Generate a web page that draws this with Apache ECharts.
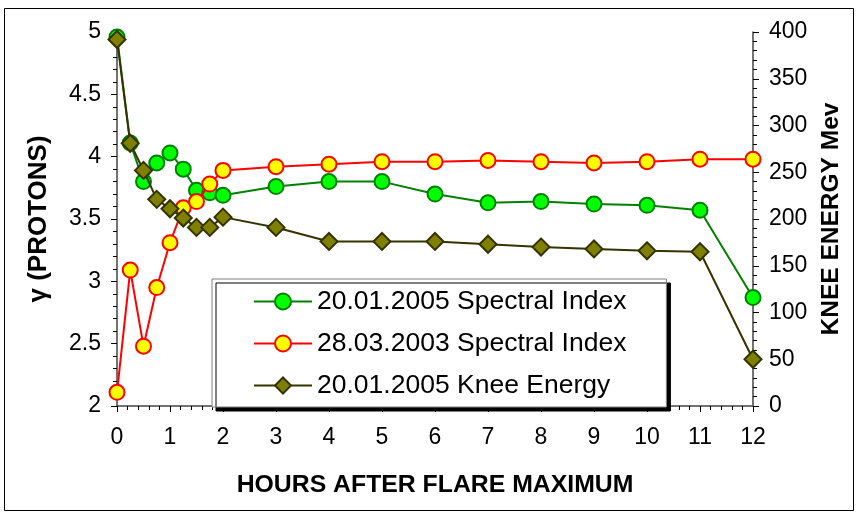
<!DOCTYPE html>
<html>
<head>
<meta charset="utf-8">
<script src="https://cdn.jsdelivr.net/npm/echarts@6/dist/echarts.min.js"></script>
<style>
html,body{margin:0;padding:0;background:#fff;}
#chart{width:861px;height:519px;}
</style>
</head>
<body>
<div id="chart"></div>
<script>
var hours = [0, 0.25, 0.5, 0.75, 1, 1.25, 1.5, 1.75, 2, 3, 4, 5, 6, 7, 8, 9, 10, 11, 12];
var spectral2005 = [4.96, 4.11, 3.80, 3.95, 4.03, 3.90, 3.73, 3.71, 3.69, 3.76, 3.80, 3.80, 3.70, 3.63, 3.64, 3.62, 3.61, 3.57, 2.87];
var spectral2003 = [2.11, 3.09, 2.48, 2.95, 3.31, 3.59, 3.64, 3.78, 3.89, 3.92, 3.94, 3.96, 3.96, 3.97, 3.96, 3.95, 3.96, 3.98, 3.98];
var knee2005 = [392, 281, 252, 221, 211, 201, 191, 191, 202, 191, 176, 176, 176, 173, 170, 168, 166, 165, 50];
var seriesNames = ['20.01.2005 Spectral Index', '28.03.2003 Spectral Index', '20.01.2005 Knee Energy'];
var xTitle = 'HOURS AFTER FLARE MAXIMUM';
var yLeftTitle = 'γ (PROTONS)';
var yRightTitle = 'KNEE ENERGY Mev';

function pairs(xs, ys) {
  return xs.map(function (x, i) { return [x, ys[i]]; });
}

var FONT = "'Liberation Sans', Arial, sans-serif";
var chart = echarts.init(document.getElementById('chart'), null, {renderer: 'canvas'});
var axisLineStyle = {color: '#444', width: 1.5};
var option = {
  animation: false,
  backgroundColor: '#fff',
  textStyle: {fontFamily: FONT},
  graphic: [{
    type: 'rect',
    shape: {x: 4.5, y: 8.5, width: 849, height: 502},
    style: {fill: 'none', stroke: '#000', lineWidth: 1},
    silent: true,
    z: -1
  }],
  grid: {left: 117, right: 108, top: 32, bottom: 113, containLabel: false},
  legend: {
    orient: 'vertical',
    left: 212,
    top: 279,
    padding: [9, 40, 8, 41],
    itemWidth: 58,
    itemHeight: 20,
    itemGap: 15,
    backgroundColor: '#fff',
    borderColor: '#808080',
    borderWidth: 1,
    shadowColor: '#000',
    shadowBlur: 0,
    shadowOffsetX: 4,
    shadowOffsetY: 4,
    textStyle: {fontFamily: FONT, fontSize: 26.5, color: '#000'},
    data: seriesNames
  },
  xAxis: {
    type: 'value',
    min: 0,
    max: 12,
    interval: 1,
    name: xTitle,
    nameLocation: 'middle',
    nameGap: 67,
    nameTextStyle: {fontFamily: FONT, fontSize: 24.8, fontWeight: 'bold', color: '#000'},
    axisLine: {show: true, onZero: false, lineStyle: axisLineStyle},
    axisTick: {show: true, length: 6, lineStyle: {color: '#000'}},
    minorTick: {show: true, splitNumber: 5, length: 4, lineStyle: {color: '#000'}},
    splitLine: {show: false},
    axisLabel: {fontFamily: FONT, fontSize: 23, color: '#000', margin: 20}
  },
  yAxis: [{
    type: 'value',
    position: 'left',
    min: 2,
    max: 5,
    interval: 0.5,
    name: yLeftTitle,
    nameLocation: 'middle',
    nameRotate: 90,
    nameGap: 65,
    nameTextStyle: {fontFamily: FONT, fontSize: 26, fontWeight: 'bold', color: '#000'},
    axisLine: {show: true, onZero: false, lineStyle: axisLineStyle},
    axisTick: {show: true, length: 6, lineStyle: {color: '#000'}},
    minorTick: {show: true, splitNumber: 5, length: 4, lineStyle: {color: '#000'}},
    splitLine: {show: false},
    axisLabel: {fontFamily: FONT, fontSize: 23, color: '#000', margin: 16}
  }, {
    type: 'value',
    position: 'right',
    min: 0,
    max: 400,
    interval: 50,
    name: yRightTitle,
    nameLocation: 'middle',
    nameRotate: 90,
    nameGap: 66,
    nameTextStyle: {fontFamily: FONT, fontSize: 24.5, fontWeight: 'bold', color: '#000'},
    axisLine: {show: true, onZero: false, lineStyle: axisLineStyle},
    axisTick: {show: true, length: 6, lineStyle: {color: '#000'}},
    minorTick: {show: true, splitNumber: 5, length: 4, lineStyle: {color: '#000'}},
    splitLine: {show: false},
    axisLabel: {fontFamily: FONT, fontSize: 23, color: '#000', margin: 16}
  }],
  series: [{
    name: seriesNames[0],
    type: 'line',
    yAxisIndex: 0,
    data: pairs(hours, spectral2005),
    symbol: 'circle',
    symbolSize: 15,
    lineStyle: {color: '#008000', width: 2},
    itemStyle: {color: '#00ff00', borderColor: '#008000', borderWidth: 2},
    z: 2
  }, {
    name: seriesNames[1],
    type: 'line',
    yAxisIndex: 0,
    data: pairs(hours, spectral2003),
    symbol: 'circle',
    symbolSize: 15,
    lineStyle: {color: '#ff0000', width: 2},
    itemStyle: {color: '#ffff00', borderColor: '#ff0000', borderWidth: 2},
    z: 3
  }, {
    name: seriesNames[2],
    type: 'line',
    yAxisIndex: 1,
    data: pairs(hours, knee2005),
    symbol: 'diamond',
    symbolSize: 17,
    lineStyle: {color: '#333300', width: 2},
    itemStyle: {color: '#808000', borderColor: '#333300', borderWidth: 2},
    z: 4
  }]
};
chart.setOption(option);
</script>
</body>
</html>
